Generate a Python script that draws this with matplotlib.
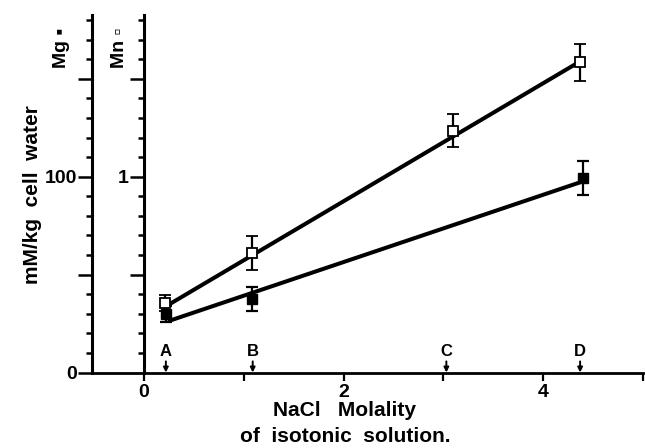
"""Mg and Mn content of cells against NaCl molality of the isotonic solution"""

import matplotlib
matplotlib.use("Agg")
import matplotlib.pyplot as plt
from matplotlib.ticker import FixedLocator, FixedFormatter

plt.rcParams['font.family'] = ['Liberation Sans', 'DejaVu Sans']
plt.rcParams['font.weight'] = 'bold'

# Data
solutions = ["A", "B", "C", "D"]
solution_x = [0.22, 1.09, 3.03, 4.37]

mg_x = [0.22, 1.08, 4.40]
mg_val = [30.0, 37.5, 99.5]        # mM/kg cell water
mg_err = [4.0, 6.0, 8.7]

mn_x = [0.21, 1.08, 3.10, 4.37]
mn_val = [0.356, 0.61, 1.235, 1.584]
mn_err = [0.04, 0.088, 0.085, 0.096]

fit_x = [0.26, 4.35]
mg_fit = [26.5, 96.8]
mn_fit = [0.35, 1.583]

XMIN, XMAX = -0.52, 5.0
YMAX = 182.6

fig = plt.figure(figsize=(6.45, 4.48), dpi=100)
ax = fig.add_axes([92 / 645, 75.5 / 448, (643 - 92) / 645, (372.5 - 15) / 448])
ax.set_xlim(XMIN, XMAX)
ax.set_ylim(0, YMAX)

for side in ("top", "right"):
    ax.spines[side].set_visible(False)
ax.spines["left"].set_linewidth(2.2)
ax.spines["bottom"].set_linewidth(2.0)

# outer (Mg) axis
ax.yaxis.set_major_locator(FixedLocator([0, 50, 100, 150]))
ax.yaxis.set_major_formatter(FixedFormatter(["0", "", "100", ""]))
ax.yaxis.set_minor_locator(FixedLocator(range(10, 190, 10)))
ax.tick_params(axis="y", which="major", length=10, width=1.8, labelsize=14, pad=1)
ax.tick_params(axis="y", which="minor", length=4, width=1.8)

# x axis
ax.xaxis.set_major_locator(FixedLocator([0, 2, 4]))
ax.xaxis.set_minor_locator(FixedLocator([1, 3, 5]))
ax.tick_params(axis="x", which="major", length=6, width=1.6, labelsize=14, pad=2)
ax.tick_params(axis="x", which="minor", length=6, width=1.6)

# inner (Mn) axis at x = 0
ax2 = ax.twinx()
ax2.set_ylim(0, YMAX / 100)
for side in ("top", "right", "bottom"):
    ax2.spines[side].set_visible(False)
ax2.spines["left"].set_visible(True)
ax2.spines["left"].set_position(("data", 0))
ax2.spines["left"].set_linewidth(2.2)
ax2.yaxis.tick_left()
ax2.yaxis.set_major_locator(FixedLocator([0.5, 1.0, 1.5]))
ax2.yaxis.set_major_formatter(FixedFormatter(["", "1", ""]))
ax2.yaxis.set_minor_locator(FixedLocator([v / 10 for v in range(1, 19)]))
ax2.tick_params(axis="y", which="major", length=10, width=1.8, labelsize=14, pad=1)
ax2.tick_params(axis="y", which="minor", length=4, width=1.8)

# regression lines
ax.plot(fit_x, mg_fit, color="k", lw=2.9, zorder=2)
ax2.plot(fit_x, mn_fit, color="k", lw=2.9, zorder=2)

# measured points
ax.errorbar(mg_x, mg_val, yerr=mg_err, fmt="s", ms=6.5, mfc="k", mec="k",
            ecolor="k", elinewidth=1.6, capsize=4, capthick=1.6, zorder=3)
ax2.errorbar(mn_x, mn_val, yerr=mn_err, fmt="s", ms=6.5, mfc="white", mec="k",
             mew=1.3, ecolor="k", elinewidth=1.6, capsize=4, capthick=1.6, zorder=3)

# solution markers A-D
for name, xs in zip(solutions, solution_x):
    ax.annotate(name, xy=(xs, 0), xytext=(0, 10), textcoords="offset points",
                ha="center", va="bottom", fontsize=12, fontweight="bold",
                arrowprops=dict(arrowstyle="-|>", color="k", lw=1.4,
                                shrinkA=0, shrinkB=0, mutation_scale=7))

# labels
fig.text(33 / 645, 1 - 195 / 448, "mM/kg  cell  water", rotation=90,
         ha="center", va="center", fontsize=15, fontweight="bold")
fig.text(345 / 645, 1 - 410 / 448, "NaCl   Molality", ha="center", va="center",
         fontsize=15, fontweight="bold")
fig.text(345 / 645, 1 - 436 / 448, "of  isotonic  solution.", ha="center", va="center",
         fontsize=15, fontweight="bold")
fig.text(61 / 645, 1 - 68 / 448, "Mg \u25aa", rotation=90, ha="center", va="bottom",
         fontsize=14, fontweight="bold")
fig.text(120 / 645, 1 - 68 / 448, "Mn \u25ab", rotation=90, ha="center", va="bottom",
         fontsize=14, fontweight="bold")

fig.savefig("out.png", dpi=100)
